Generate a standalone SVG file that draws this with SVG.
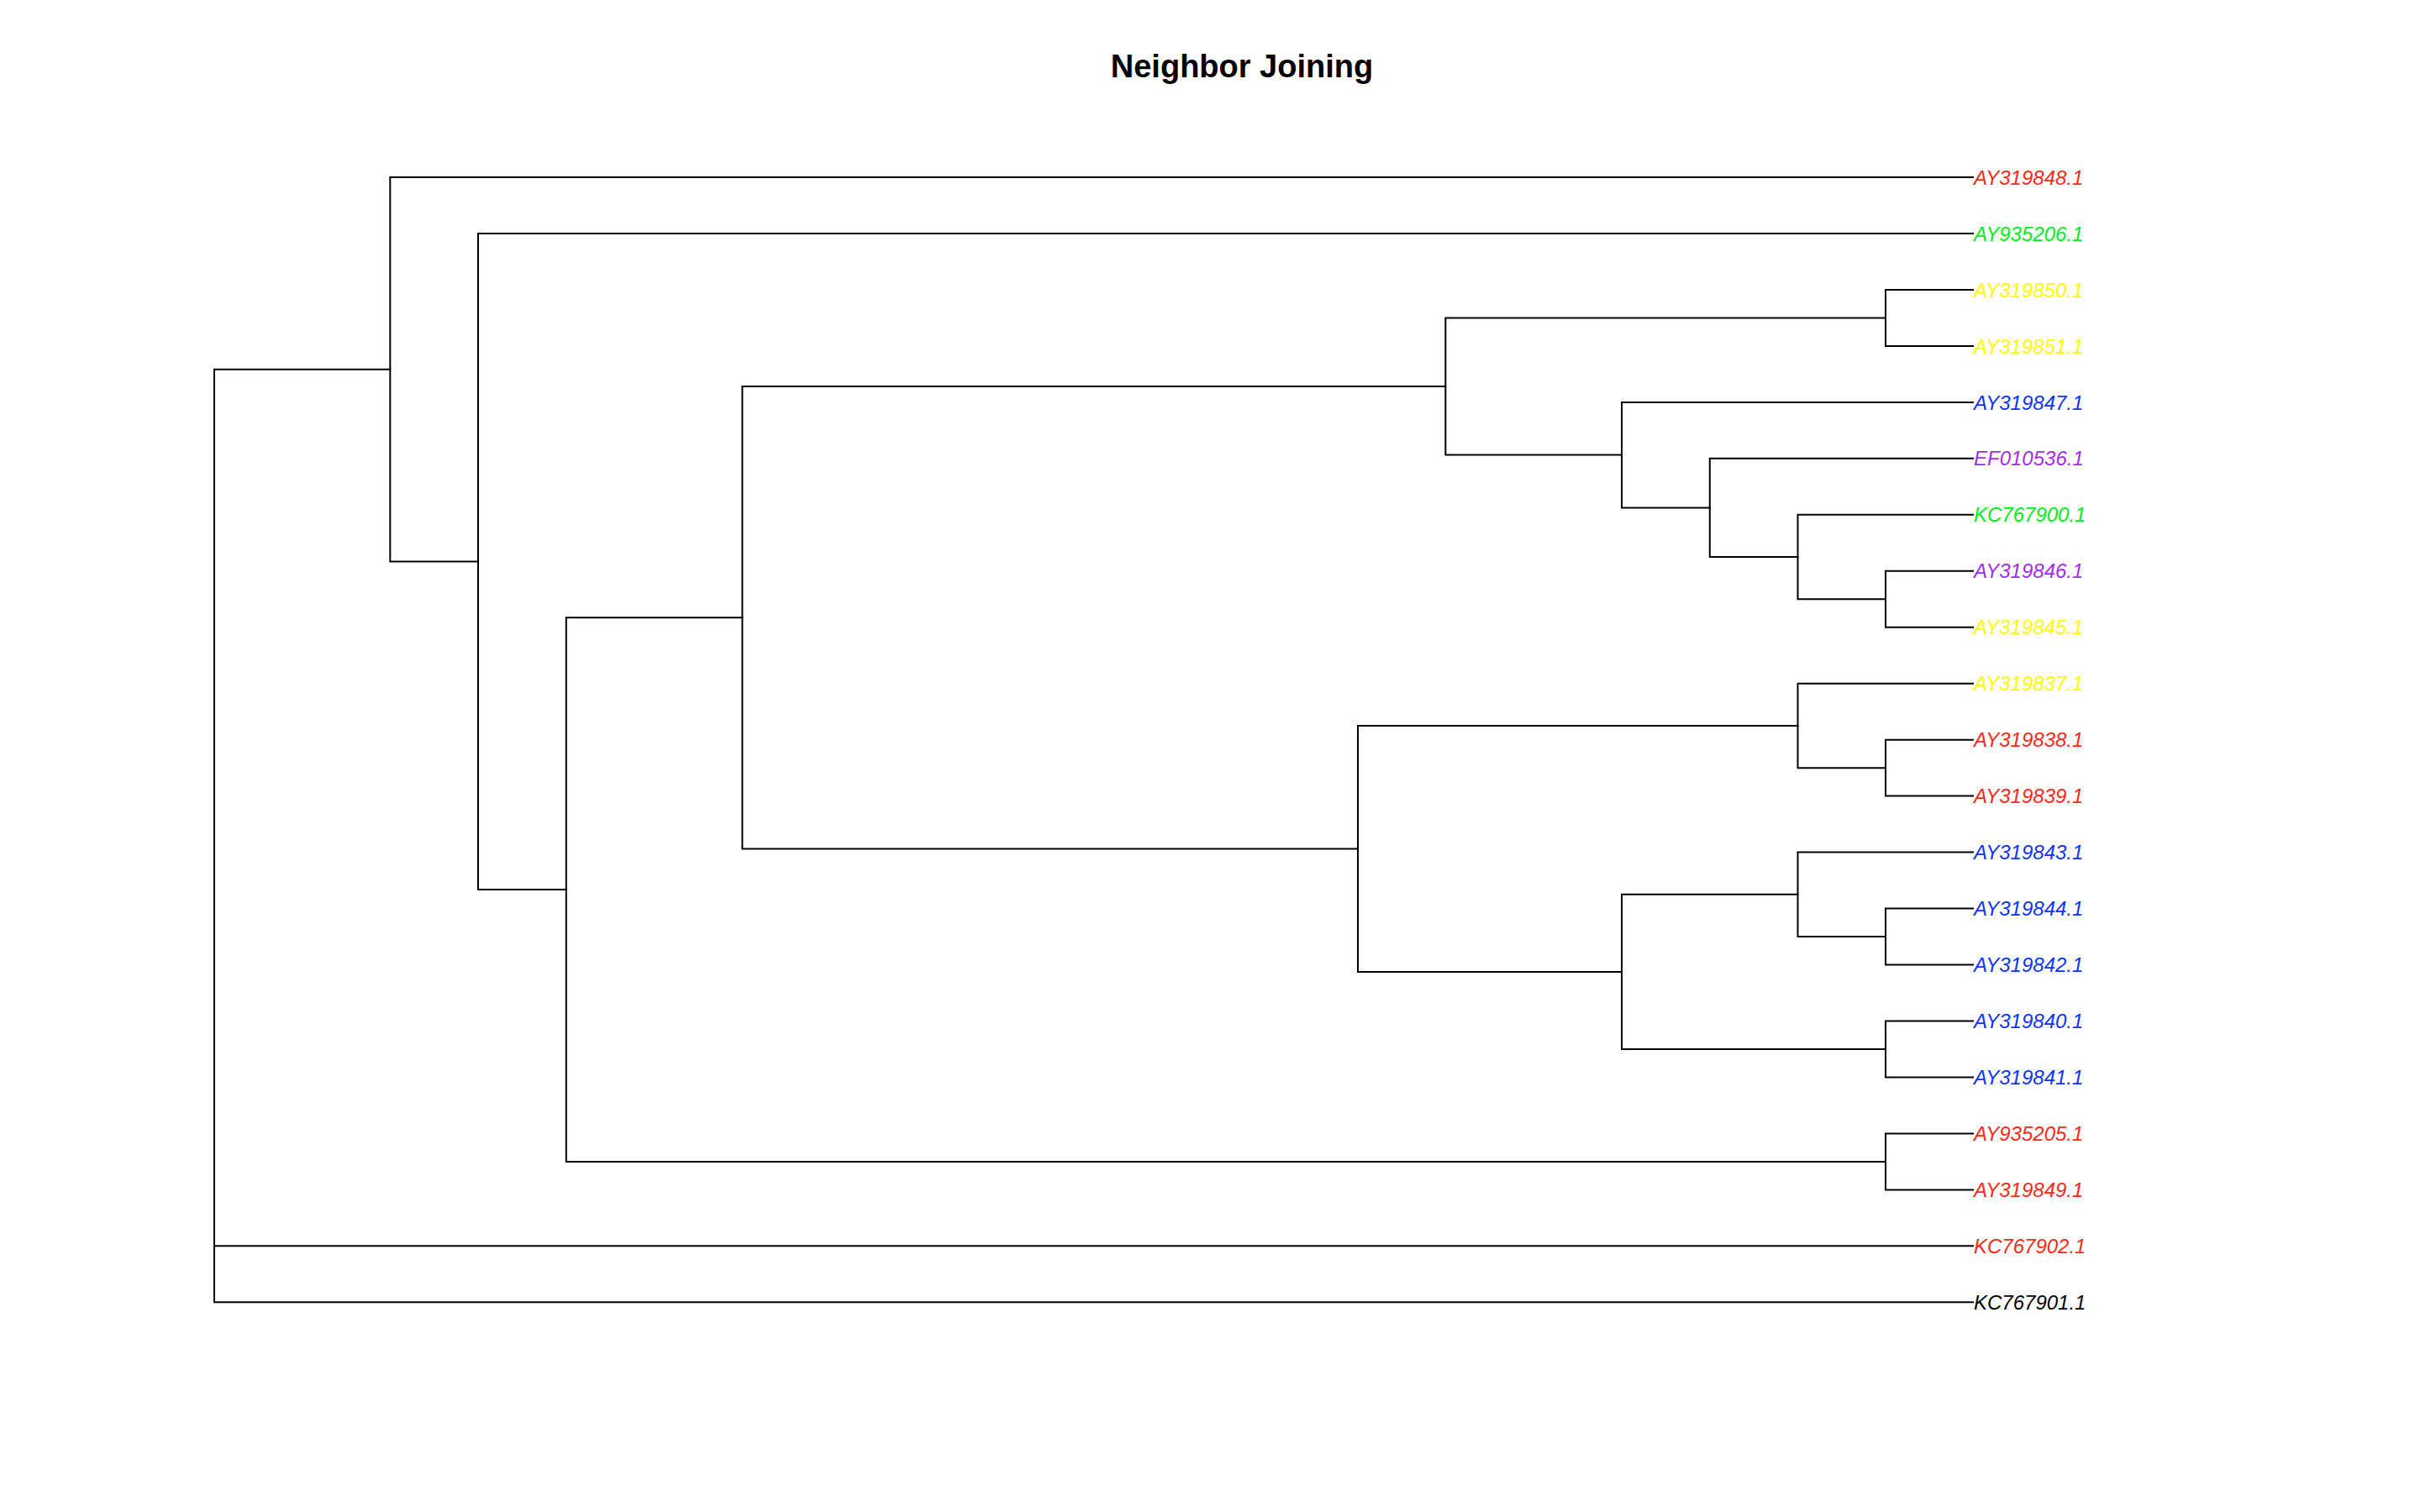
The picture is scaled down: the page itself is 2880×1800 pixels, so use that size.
<svg xmlns="http://www.w3.org/2000/svg" width="2880" height="1800" viewBox="0 0 2880 1800">
<style>
.br{fill:none;stroke:#000;stroke-width:2;stroke-linejoin:miter;stroke-linecap:square}
.lb{font-family:"Liberation Sans",Arial,sans-serif;font-size:24px;font-style:italic}
.title{font-family:"Liberation Sans",Arial,sans-serif;font-size:38px;font-weight:bold;text-anchor:middle}
.red{fill:#FF2A1A}.green{fill:#00EE22}.yellow{fill:#FFFF00}.blue{fill:#1133FF}.purple{fill:#A030F0}.black{fill:#000}
</style>
<rect width="2880" height="1800" fill="#fff"/>
<text class="title" x="1478" y="92">Neighbor Joining</text>
<g id="connectors">
<path class="br" d="M464.3 439.7 H255 V1550.3 H2348 M255 1483.3 H2348"/>
<path class="br" d="M2348 211 H464.3 V668.5 H569"/>
<path class="br" d="M2348 278 H569 V1059 H673.8"/>
<path class="br" d="M883.4 735.2 H673.8 V1382.9 H2244"/>
<path class="br" d="M1720.3 460 H883.4 V1010.4 H1616"/>
<path class="br" d="M2244 378.4 H1720.3 V541.6 H1930"/>
<path class="br" d="M2348 344.9 H2244 V411.9 H2348"/>
<path class="br" d="M2348 478.9 H1930 V604.4 H2034.8"/>
<path class="br" d="M2348 545.8 H2034.8 V663 H2139.5"/>
<path class="br" d="M2348 612.8 H2139.5 V713.3 H2244"/>
<path class="br" d="M2348 679.8 H2244 V746.7 H2348"/>
<path class="br" d="M2139.5 863.9 H1616 V1156.9 H1930"/>
<path class="br" d="M2348 813.7 H2139.5 V914.2 H2244"/>
<path class="br" d="M2348 880.7 H2244 V947.6 H2348"/>
<path class="br" d="M2139.5 1064.8 H1930 V1248.9 H2244"/>
<path class="br" d="M2348 1014.6 H2139.5 V1115 H2244"/>
<path class="br" d="M2348 1081.5 H2244 V1148.5 H2348"/>
<path class="br" d="M2348 1215.5 H2244 V1282.4 H2348"/>
<path class="br" d="M2348 1349.4 H2244 V1416.4 H2348"/>
</g>
<g id="tip-AY319848.1"><text class="lb red" x="2349" y="219.6">AY319848.1</text></g>
<g id="tip-AY935206.1"><text class="lb green" x="2349" y="286.6">AY935206.1</text></g>
<g id="tip-AY319850.1"><text class="lb yellow" x="2349" y="353.5">AY319850.1</text></g>
<g id="tip-AY319851.1"><text class="lb yellow" x="2349" y="420.5">AY319851.1</text></g>
<g id="tip-AY319847.1"><text class="lb blue" x="2349" y="487.5">AY319847.1</text></g>
<g id="tip-EF010536.1"><text class="lb purple" x="2349" y="554.4">EF010536.1</text></g>
<g id="tip-KC767900.1"><text class="lb green" x="2349" y="621.4">KC767900.1</text></g>
<g id="tip-AY319846.1"><text class="lb purple" x="2349" y="688.4">AY319846.1</text></g>
<g id="tip-AY319845.1"><text class="lb yellow" x="2349" y="755.3">AY319845.1</text></g>
<g id="tip-AY319837.1"><text class="lb yellow" x="2349" y="822.3">AY319837.1</text></g>
<g id="tip-AY319838.1"><text class="lb red" x="2349" y="889.3">AY319838.1</text></g>
<g id="tip-AY319839.1"><text class="lb red" x="2349" y="956.2">AY319839.1</text></g>
<g id="tip-AY319843.1"><text class="lb blue" x="2349" y="1023.2">AY319843.1</text></g>
<g id="tip-AY319844.1"><text class="lb blue" x="2349" y="1090.1">AY319844.1</text></g>
<g id="tip-AY319842.1"><text class="lb blue" x="2349" y="1157.1">AY319842.1</text></g>
<g id="tip-AY319840.1"><text class="lb blue" x="2349" y="1224.1">AY319840.1</text></g>
<g id="tip-AY319841.1"><text class="lb blue" x="2349" y="1291">AY319841.1</text></g>
<g id="tip-AY935205.1"><text class="lb red" x="2349" y="1358">AY935205.1</text></g>
<g id="tip-AY319849.1"><text class="lb red" x="2349" y="1425">AY319849.1</text></g>
<g id="tip-KC767902.1"><text class="lb red" x="2349" y="1491.9">KC767902.1</text></g>
<g id="tip-KC767901.1"><text class="lb black" x="2349" y="1558.9">KC767901.1</text></g>
</svg>
